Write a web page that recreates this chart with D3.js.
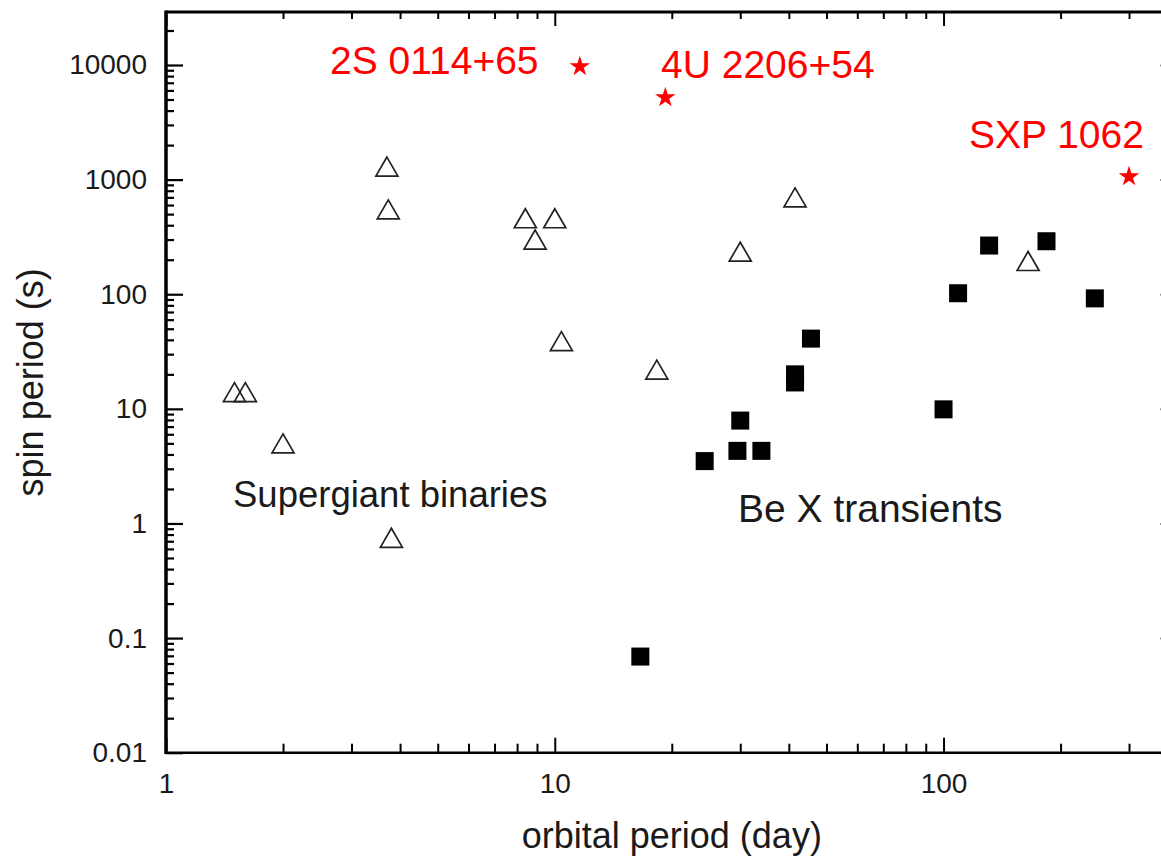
<!DOCTYPE html>
<html>
<head>
<meta charset="utf-8">
<script src="https://cdn.jsdelivr.net/npm/d3@7"></script>
<style>
  body { margin: 0; background: #fff; }
  svg { display: block; }
  text { font-family: "Liberation Sans", Arial, Helvetica, sans-serif; }
</style>
</head>
<body>
<svg id="chart" width="1161" height="859"></svg>
<script>
// Supergiant X-ray binaries (open triangles): orbital period (d), spin period (s)
const sgOrbit = [1.5, 1.6, 2.0, 3.7, 3.73, 3.8, 8.4, 8.9, 10.0, 10.4, 18.3, 30, 41.5, 165];
const sgSpin  = [14, 14, 5.0, 1300, 550, 0.75, 460, 300, 460, 39, 22, 235, 700, 195];

// Be X-ray transients (filled squares)
const beOrbit = [16.6, 24.3, 29.5, 30, 34, 41.5, 41.5, 45.6, 100, 109, 131, 184, 245];
const beSpin  = [0.069, 3.5, 4.3, 7.9, 4.3, 20, 17, 41, 9.9, 102, 266, 290, 92];

// Individually labelled sources (red stars)
const starNames = ["2S 0114+65", "4U 2206+54", "SXP 1062"];
const starOrbit = [11.6, 19.25, 300];
const starSpin  = [9700, 5200, 1062];

// Axis ticks
const xTickValues = [1, 10, 100];
const yTickValues = [0.01, 0.1, 1, 10, 100, 1000, 10000];

const xDomain = [1, 400];
const yDomain = [0.01, 29000];

const svg = d3.select("#chart");
const plotLeft = 166, plotRight = 1177.6, plotTop = 12, plotBottom = 752.7;

const x = d3.scaleLog().domain(xDomain).range([plotLeft, plotRight]);
const y = d3.scaleLog().domain(yDomain).range([plotBottom, plotTop]);

// minor ticks: 2..9 in each decade inside the domain
function minorTicks(domain) {
  const out = [];
  const lo = Math.floor(Math.log10(domain[0])), hi = Math.ceil(Math.log10(domain[1]));
  for (let e = lo; e <= hi; e++) {
    for (let m = 2; m <= 9; m++) {
      const v = m * Math.pow(10, e);
      if (v > domain[0] && v < domain[1]) out.push(v);
    }
  }
  return out;
}
const xMinor = minorTicks(xDomain);
const yMinor = minorTicks(yDomain);

const fmt = d3.format("~g");

function styleAxis(g, width) {
  g.select(".domain").remove();
  g.selectAll(".tick line").attr("stroke", "#000").attr("stroke-width", width);
  g.selectAll(".tick text")
    .attr("fill", "#1a1a1a")
    .style("font-size", "28px")
    .style("font-family", "'Liberation Sans', Arial, sans-serif");
}

// bottom axis
svg.append("g").attr("transform", `translate(0,${plotBottom})`)
  .call(d3.axisBottom(x).tickValues(xTickValues).tickFormat(fmt).tickSize(-15).tickPadding(20))
  .call(g => styleAxis(g, 2));
svg.append("g").attr("transform", `translate(0,${plotBottom})`)
  .call(d3.axisBottom(x).tickValues(xMinor).tickFormat("").tickSize(-9))
  .call(g => styleAxis(g, 2));

// top axis (ticks only)
svg.append("g").attr("transform", `translate(0,${plotTop})`)
  .call(d3.axisTop(x).tickValues(xTickValues).tickFormat("").tickSize(-14))
  .call(g => styleAxis(g, 2));
svg.append("g").attr("transform", `translate(0,${plotTop})`)
  .call(d3.axisTop(x).tickValues(xMinor).tickFormat("").tickSize(-7))
  .call(g => styleAxis(g, 2));

// left axis
svg.append("g").attr("transform", `translate(${plotLeft},0)`)
  .call(d3.axisLeft(y).tickValues(yTickValues).tickFormat(fmt).tickSize(-17).tickPadding(19))
  .call(g => styleAxis(g, 2.2));
svg.append("g").attr("transform", `translate(${plotLeft},0)`)
  .call(d3.axisLeft(y).tickValues(yMinor).tickFormat("").tickSize(-8))
  .call(g => styleAxis(g, 2.2));

// right axis (ticks only)
svg.append("g").attr("transform", `translate(${plotRight},0)`)
  .call(d3.axisRight(y).tickValues(yTickValues).tickFormat("").tickSize(-17))
  .call(g => styleAxis(g, 2));
svg.append("g").attr("transform", `translate(${plotRight},0)`)
  .call(d3.axisRight(y).tickValues(yMinor).tickFormat("").tickSize(-8))
  .call(g => styleAxis(g, 2));

// frame
svg.append("line").attr("x1", plotLeft).attr("x2", plotLeft).attr("y1", plotTop - 1.5).attr("y2", plotBottom + 1.2)
  .attr("stroke", "#000").attr("stroke-width", 3.5);
svg.append("line").attr("x1", plotLeft).attr("x2", plotRight).attr("y1", plotTop).attr("y2", plotTop)
  .attr("stroke", "#000").attr("stroke-width", 3);
svg.append("line").attr("x1", plotLeft).attr("x2", plotRight).attr("y1", plotBottom).attr("y2", plotBottom)
  .attr("stroke", "#000").attr("stroke-width", 2.5);
svg.append("line").attr("x1", plotRight).attr("x2", plotRight).attr("y1", plotTop).attr("y2", plotBottom)
  .attr("stroke", "#000").attr("stroke-width", 3);

// axis titles
svg.append("text")
  .attr("x", (plotLeft + plotRight) / 2).attr("y", 848)
  .attr("text-anchor", "middle")
  .style("font-size", "36px").attr("fill", "#1a1a1a")
  .text("orbital period (day)");

svg.append("text")
  .attr("transform", `translate(43,${(plotTop + plotBottom) / 2}) rotate(-90)`)
  .attr("text-anchor", "middle")
  .style("font-size", "36px").attr("fill", "#1a1a1a")
  .text("spin period (s)");

// supergiant binaries: open triangles
const triW = 22, triH = 19;
const triPath = `M0,${-triH / 2}L${triW / 2},${triH / 2}L${-triW / 2},${triH / 2}Z`;
svg.append("g").selectAll("path")
  .data(sgOrbit.map((d, i) => [d, sgSpin[i]]))
  .join("path")
  .attr("d", triPath)
  .attr("transform", d => `translate(${x(d[0])},${y(d[1])})`)
  .attr("fill", "none")
  .attr("stroke", "#222")
  .attr("stroke-width", 1.7)
  .attr("stroke-linejoin", "miter");

// Be transients: filled squares
const sq = 18;
svg.append("g").selectAll("rect")
  .data(beOrbit.map((d, i) => [d, beSpin[i]]))
  .join("rect")
  .attr("x", d => x(d[0]) - sq / 2)
  .attr("y", d => y(d[1]) - sq / 2)
  .attr("width", sq).attr("height", sq)
  .attr("fill", "#000");

// labelled sources: red stars
const starSym = d3.symbol().type(d3.symbolStar).size(130);
svg.append("g").selectAll("path")
  .data(starOrbit.map((d, i) => [d, starSpin[i]]))
  .join("path")
  .attr("d", starSym)
  .attr("transform", d => `translate(${x(d[0])},${y(d[1])})`)
  .attr("fill", "#ff0000");

// source name labels
const starLabelPos = [
  { x: 330, y: 74 },
  { x: 661, y: 78 },
  { x: 969, y: 148 }
];
svg.append("g").selectAll("text")
  .data(starNames)
  .join("text")
  .attr("x", (d, i) => starLabelPos[i].x)
  .attr("y", (d, i) => starLabelPos[i].y)
  .style("font-size", "39px")
  .attr("fill", "#ff0000")
  .text(d => d);

// class annotations
svg.append("text").attr("x", 233).attr("y", 507)
  .style("font-size", "36.5px").attr("fill", "#1a1a1a")
  .text("Supergiant binaries");
svg.append("text").attr("x", 738).attr("y", 522)
  .style("font-size", "39px").attr("fill", "#1a1a1a")
  .text("Be X transients");
</script>
</body>
</html>
